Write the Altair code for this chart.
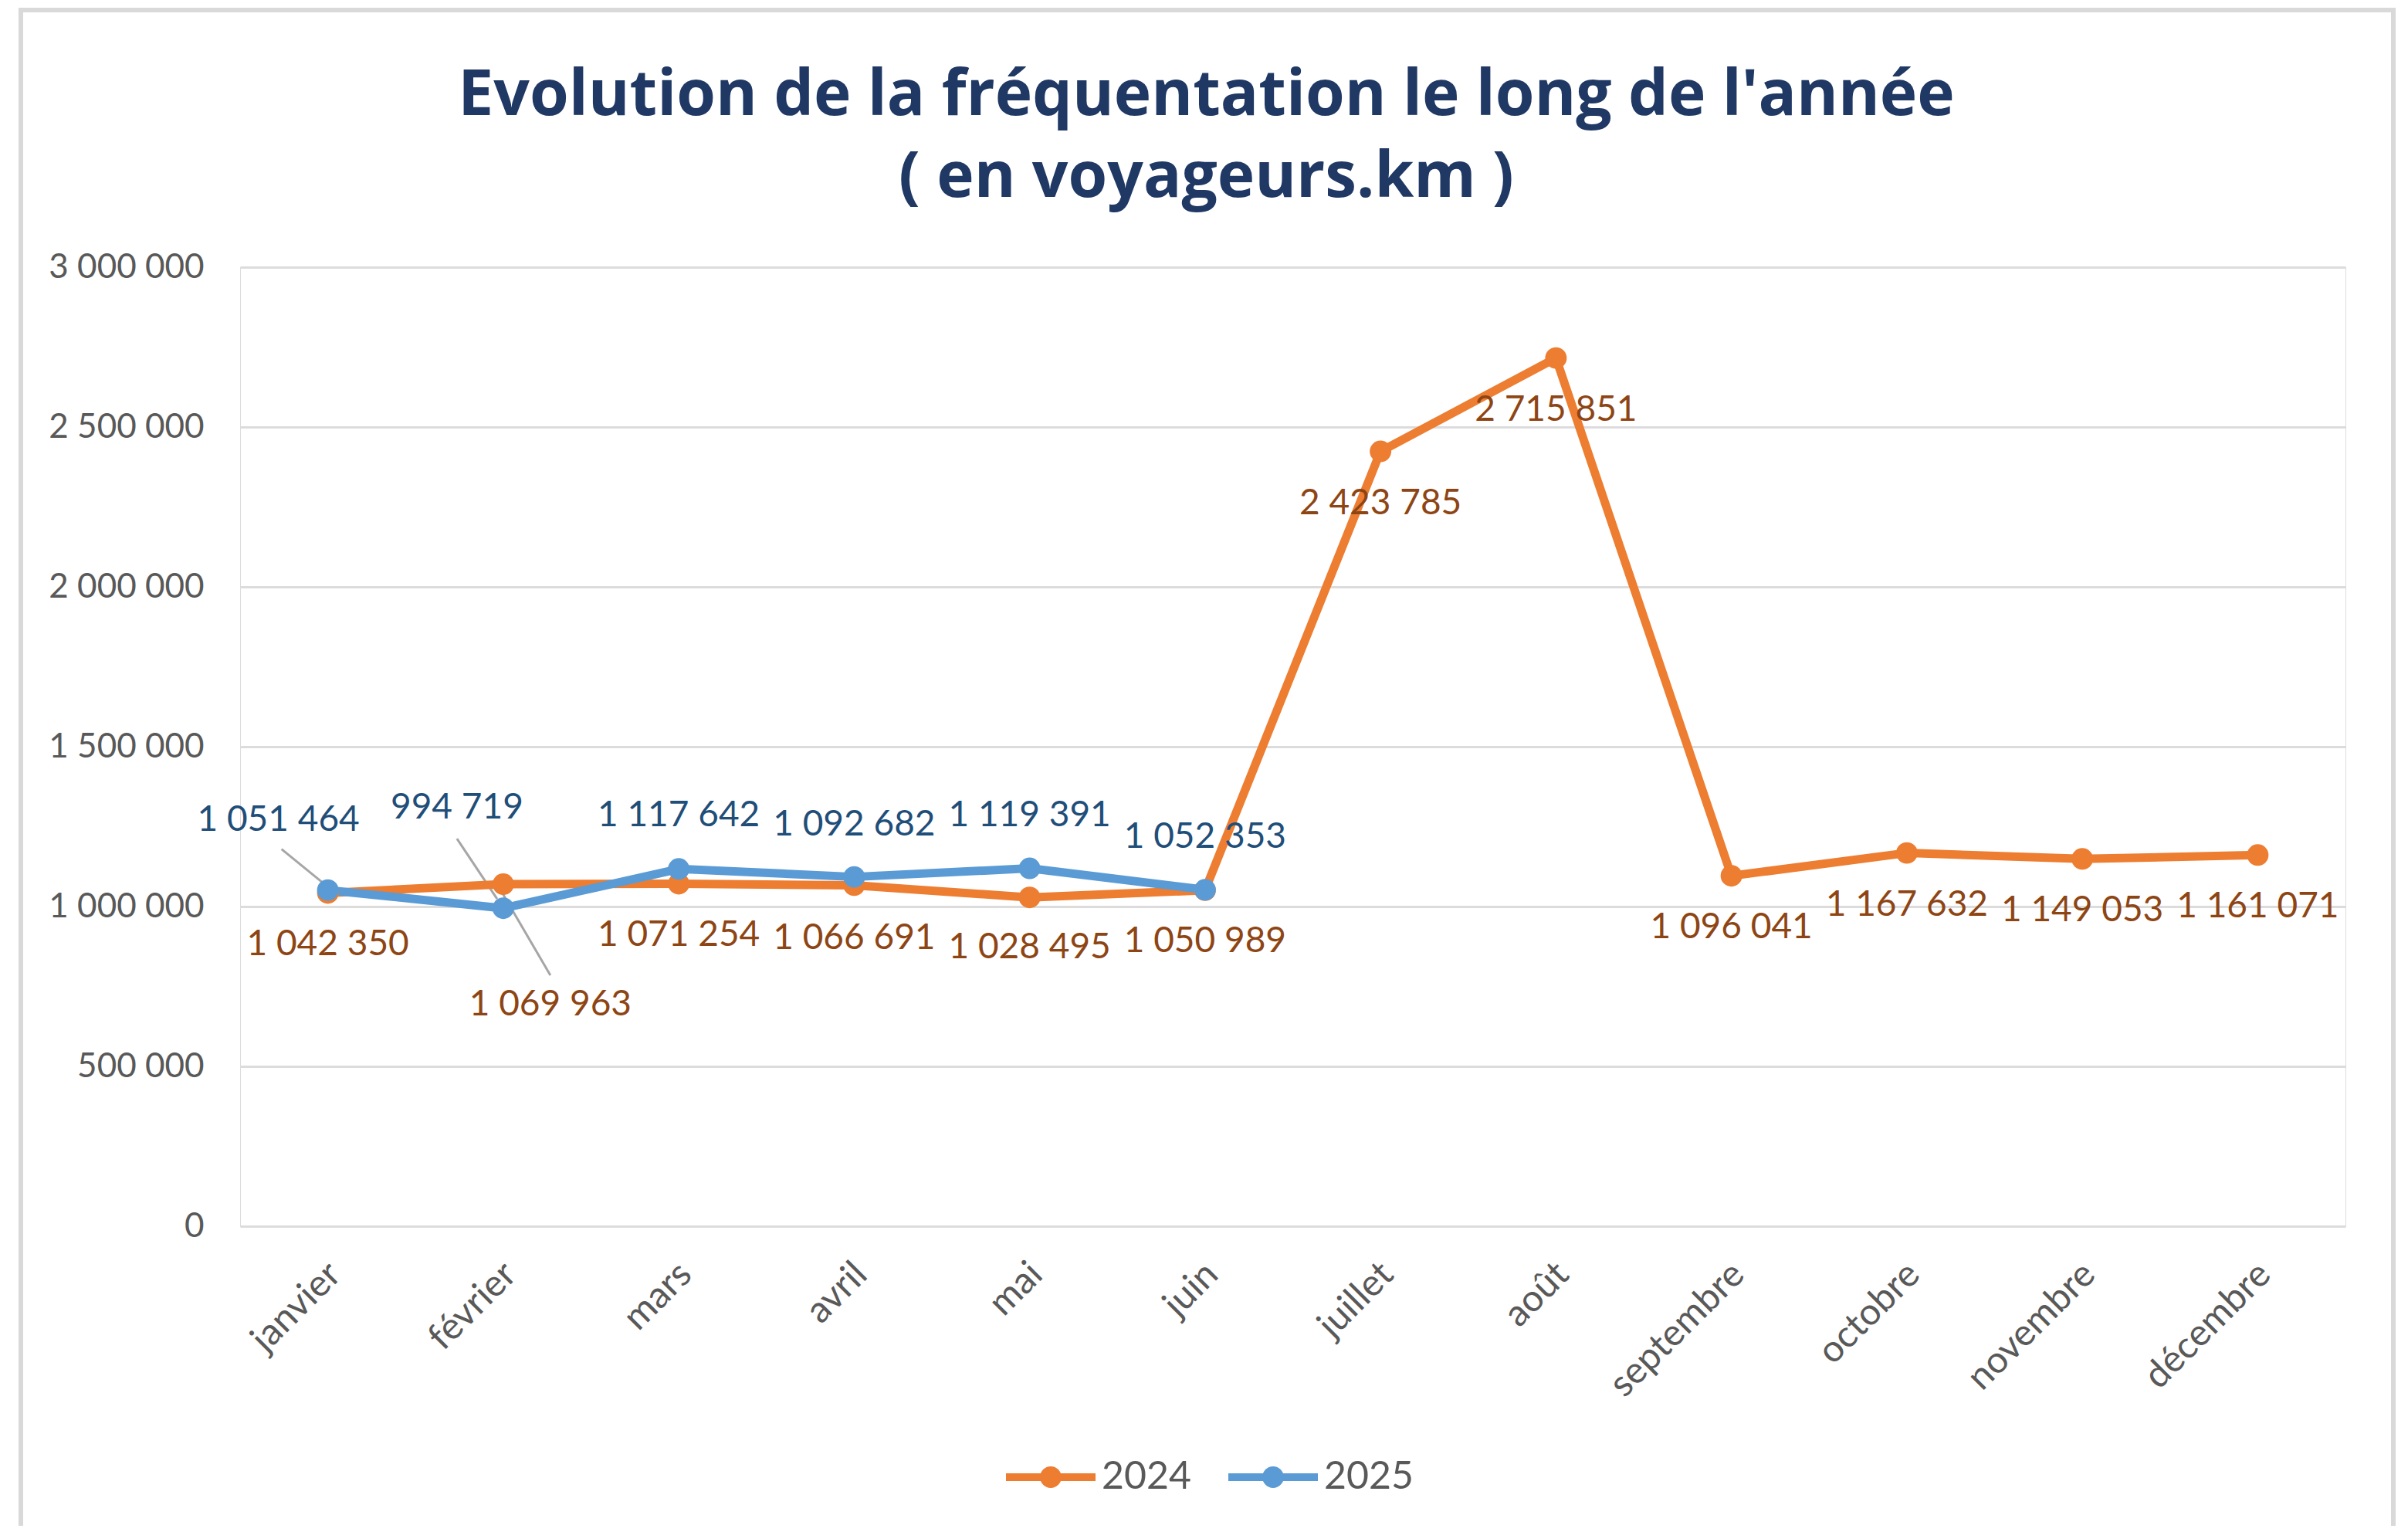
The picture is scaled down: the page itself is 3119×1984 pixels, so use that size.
import altair as alt
import pandas as pd

# ---- data ----
months = ["janvier", "février", "mars", "avril", "mai", "juin", "juillet",
          "août", "septembre", "octobre", "novembre", "décembre"]
values_2024 = [1042350, 1069963, 1071254, 1066691, 1028495, 1050989,
               2423785, 2715851, 1096041, 1167632, 1149053, 1161071]
values_2025 = [1051464, 994719, 1117642, 1092682, 1119391, 1052353]
series = ["2024", "2025"]
y_ticks = [0, 500000, 1000000, 1500000, 2000000, 2500000, 3000000]

# ---- label placement (pixel offsets from the point) ----
lab_dx_2024 = [0, 61, 0, 0, 0, 0, 0, 0, 0, 0, 0, 0]
lab_dy_2024 = [67, 156, 66, 69, 65, 66, 67, 67, 67, 67, 67, 67]
lab_dx_2025 = [-64, -60, 0, 0, 0, 0]
lab_dy_2025 = [-91, -130, -69, -68, -69, -68]
# leader lines: (series, month, start dx, start dy, end dx, end dy)
leaders = [("2025", "janvier", -60, -53, -6, -9),
           ("2025", "février", -60, -90, -8, -12),
           ("2024", "février", -5, 5, 61, 118)]

colors = ["#ED7D31", "#5B9BD5"]
label_colors = {"2024": "#8E4514", "2025": "#1F4E79"}

rows = []
for m, v, dx, dy in zip(months, values_2024, lab_dx_2024, lab_dy_2024):
    rows.append(dict(month=m, value=v, year="2024", dx=dx, dy=dy))
for m, v, dx, dy in zip(months, values_2025, lab_dx_2025, lab_dy_2025):
    rows.append(dict(month=m, value=v, year="2025", dx=dx, dy=dy))
df = pd.DataFrame(rows)
df["label"] = df["value"].map(lambda v: f"{v:,}".replace(",", " "))

FONT = "Lato"
W, H = 2727, 1242

x_enc = alt.X("month:N", sort=months, scale=alt.Scale(type="point", padding=0.5),
              axis=alt.Axis(title=None, labelAngle=-45, labelFont=FONT,
                            labelFontSize=48, labelColor="#595959",
                            domain=False, ticks=False, labelPadding=38,
                            labelOffset=-8, labelLimit=0, grid=False))
y_enc = alt.Y("value:Q", scale=alt.Scale(domain=[0, 3000000], nice=False),
              axis=alt.Axis(title=None, values=y_ticks, labelFont=FONT,
                            labelFontSize=44, labelColor="#595959",
                            domain=False, ticks=False, labelPadding=47,
                            labelLimit=0,
                            gridColor="#DCDCDC", gridWidth=3,
                            labelExpr="replace(format(datum.value, ','), /,/g, ' ')"))

base = alt.Chart(df)

legend_path = ("M-1,-0.085 L1,-0.085 L1,0.085 L-1,0.085 Z "
               "M0.24,0 A0.24,0.24 0 1,1 -0.24,0 A0.24,0.24 0 1,1 0.24,0 Z")

line_layers = []
for yr, col in zip(series, colors):
    line_layers.append(
        base.transform_filter(alt.datum.year == yr)
        .transform_calculate(x_idx="indexof(%s, datum.month)" % str(months))
        .mark_line(strokeWidth=11, strokeJoin="round", color=col)
        .encode(x=x_enc, y=y_enc, order=alt.Order("x_idx:Q"))
    )

points = base.mark_circle(size=780, opacity=1).encode(
    x=x_enc, y=y_enc,
    color=alt.Color("year:N", scale=alt.Scale(domain=series, range=colors),
                    legend=alt.Legend(title=None, orient="none",
                                      direction="horizontal",
                                      legendX=992, legendY=1509,
                                      symbolType=legend_path,
                                      symbolSize=13456, symbolStrokeWidth=0,
                                      labelFont=FONT, labelFontSize=50,
                                      labelColor="#595959", labelOffset=8,
                                      columnPadding=47)),
)

leader_layers = []
for yr, m, sx, sy, ex, ey in leaders:
    leader_layers.append(
        base.transform_filter(
            (alt.datum.year == yr) & (alt.datum.month == m)
        ).mark_rule(color="#A6A6A6", strokeWidth=3,
                    xOffset=sx, yOffset=sy, x2Offset=ex, y2Offset=ey).encode(
            x=x_enc, y=y_enc, x2=alt.X2("month"), y2=alt.Y2("value"))
    )

text_layers = []
combos = df[["year", "dx", "dy"]].drop_duplicates().values.tolist()
for yr, dx, dy in combos:
    text_layers.append(
        base.transform_filter(
            (alt.datum.year == yr) & (alt.datum.dx == dx) & (alt.datum.dy == dy)
        ).mark_text(font=FONT, fontSize=46, color=label_colors[yr],
                    dx=int(dx), dy=int(dy), baseline="middle", align="center").encode(
            x=x_enc, y=y_enc, text="label:N")
    )

frame = alt.Chart(pd.DataFrame({"k": [0]})).mark_rect(
    filled=False, stroke="#D9D9D9", strokeWidth=6).encode(
    x=alt.value(-284), x2=alt.value(2789), y=alt.value(-333), y2=alt.value(1650))

chart = alt.layer(frame, *leader_layers, *line_layers, points, *text_layers).properties(
    width=W, height=H,
    title=alt.TitleParams(
        text=["Evolution de la fréquentation le long de l'année", "( en voyageurs.km )"],
        font="Open Sans", fontSize=82, fontWeight="bold", color="#203864",
        anchor="middle", frame="group", dx=-112, offset=0, dy=262, lineHeight=106),
    autosize=alt.AutoSizeParams(type="none"),
    padding={"left": 303, "top": 338, "right": 65, "bottom": 388},
).configure_view(stroke=None).configure(background="white")

chart.save("out.html", embed_options={"renderer": "svg", "actions": False})
